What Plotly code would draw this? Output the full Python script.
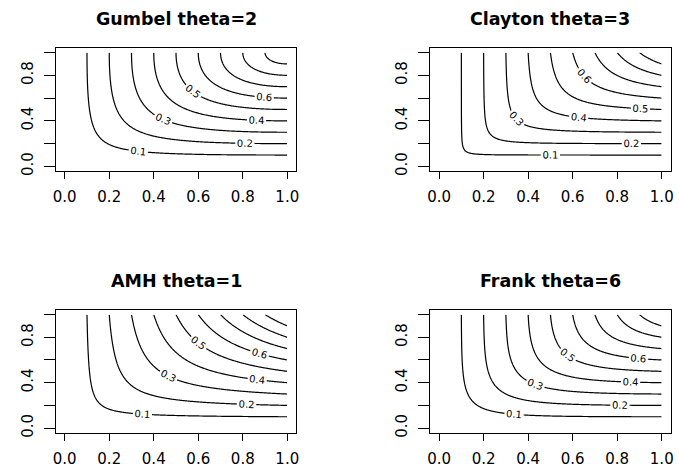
import numpy as np
import plotly.graph_objects as go

# ---- chart content ----
families = ["Gumbel", "Clayton", "AMH", "Frank"]
thetas = [2, 3, 1, 6]
titles = ["Gumbel theta=2", "Clayton theta=3", "AMH theta=1", "Frank theta=6"]
levels_start, levels_end, levels_step = 0.1, 0.9, 0.1
x_tickvals = [0.0, 0.2, 0.4, 0.6, 0.8, 1.0]
x_ticktext = ["0.0", "0.2", "0.4", "0.6", "0.8", "1.0"]
y_tickvals = [0.0, 0.2, 0.4, 0.6, 0.8, 1.0]
y_ticktext = ["0.0", "", "0.4", "", "0.8", ""]

grid = np.linspace(0, 1, 201)


def copula(name, th, u, v):
    with np.errstate(divide="ignore", invalid="ignore", over="ignore"):
        if name == "Gumbel":
            z = np.exp(-((-np.log(u)) ** th + (-np.log(v)) ** th) ** (1.0 / th))
        elif name == "Clayton":
            z = (u ** (-th) + v ** (-th) - 1.0) ** (-1.0 / th)
        elif name == "AMH":
            z = u * v / (1.0 - th * (1.0 - u) * (1.0 - v))
        else:  # Frank
            z = -1.0 / th * np.log(1.0 + (np.exp(-th * u) - 1.0) * (np.exp(-th * v) - 1.0) / (np.exp(-th) - 1.0))
    return np.nan_to_num(z, nan=0.0, posinf=0.0, neginf=0.0)


U, V = np.meshgrid(grid, grid)

W, H = 679, 473
# plot boxes in pixels: (left, right, top, bottom)
boxes = [(53.3, 295.8, 48.5, 172.8), (431.0, 673.6, 48.5, 172.8),
         (53.3, 295.8, 313.3, 437.3), (431.0, 673.6, 313.3, 437.3)]
title_y = [18.8, 18.8, 283.8, 283.8]

fig = go.Figure()
font_fam = "DejaVu Sans"
layout_axes = {}
annotations = []
for i, (name, th, ttl) in enumerate(zip(families, thetas, titles)):
    Z = copula(name, th, U, V)
    xa = "x" if i == 0 else f"x{i+1}"
    ya = "y" if i == 0 else f"y{i+1}"
    fig.add_trace(go.Contour(
        x=grid, y=grid, z=Z, xaxis=xa, yaxis=ya,
        contours=dict(start=levels_start, end=levels_end + 1e-9, size=levels_step,
                      coloring="none", showlabels=True,
                      labelfont=dict(family=font_fam, size=10, color="black"),
                      labelformat=".1f"),
        line=dict(color="black", width=1.2), showscale=False, hoverinfo="skip",
        autocontour=False,
    ))
    l, r, t, b = boxes[i]
    xkey = "xaxis" if i == 0 else f"xaxis{i+1}"
    ykey = "yaxis" if i == 0 else f"yaxis{i+1}"
    layout_axes[xkey] = dict(domain=[l / W, r / W], range=[-0.04, 1.04], anchor=ya,
                             showgrid=False, zeroline=False, showline=True, mirror=True,
                             linecolor="black", linewidth=1, ticks="outside", ticklen=7,
                             tickcolor="black", tickvals=x_tickvals, ticktext=x_ticktext,
                             ticklabelstandoff=5,
                             tickfont=dict(family=font_fam, size=15, color="black"))
    layout_axes[ykey] = dict(domain=[1 - b / H, 1 - t / H], range=[-0.04, 1.04], anchor=xa,
                             showgrid=False, zeroline=False, showline=True, mirror=True,
                             linecolor="black", linewidth=1, ticks="outside", ticklen=11,
                             tickcolor="black", tickvals=y_tickvals, ticktext=y_ticktext,
                             tickangle=-90, ticklabelstandoff=5,
                             tickfont=dict(family=font_fam, size=15, color="black"))
    annotations.append(dict(text=f"<b>{ttl}</b>", x=(l + r) / 2 / W, y=1 - title_y[i] / H,
                            xref="paper", yref="paper", xanchor="center", yanchor="middle",
                            showarrow=False, font=dict(family=font_fam, size=17.5, color="black")))

fig.update_layout(width=W, height=H, margin=dict(l=0, r=0, t=0, b=0),
                  paper_bgcolor="white", plot_bgcolor="white", showlegend=False,
                  annotations=annotations, **layout_axes)
fig.write_html("out.html")
